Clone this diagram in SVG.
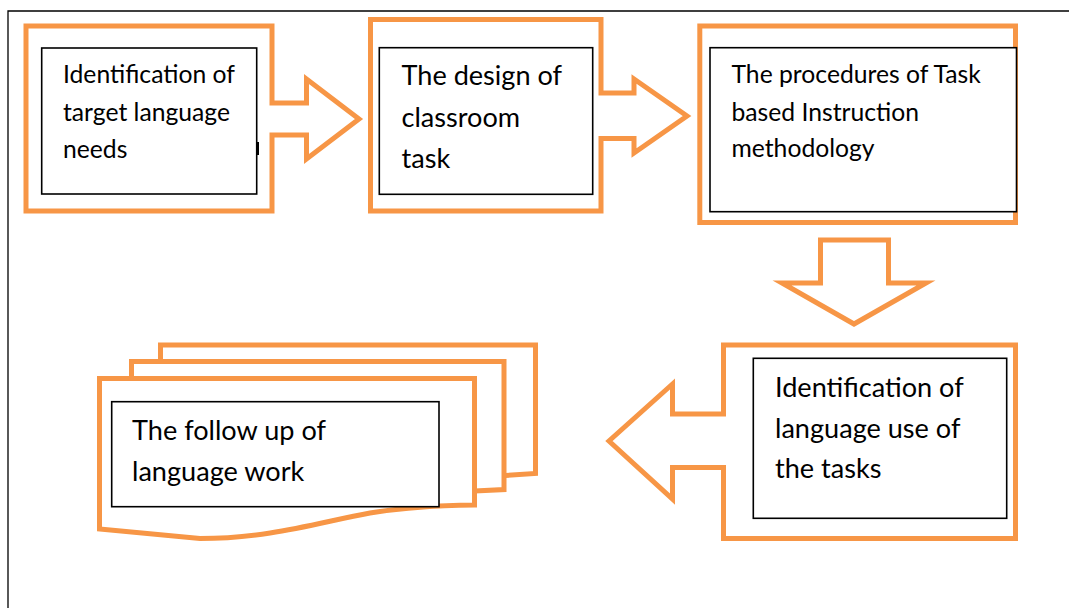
<svg xmlns="http://www.w3.org/2000/svg" width="1069" height="608" viewBox="0 0 1069 608">
<style>
.o{fill:#fff;stroke:#F79646;stroke-width:5;stroke-linejoin:miter}
.b{fill:#fff;stroke:#000;stroke-width:1.6}
.t{font-family:Lato,"Liberation Sans",sans-serif;fill:#000}
.s{font-size:24.7px}
.l{font-size:27.1px}
</style>
<rect width="1069" height="608" fill="#fff"/>
<path d="M1069,11 H8 V608" fill="none" stroke="#000" stroke-width="1.3"/>
<g id="connectors">
<path class="o" d="M820.5,240 H888.5 V283 H926 L854,324 L782,283 H820.5 Z"/>
</g>
<g id="node1">
<path class="o" d="M26,26 H272 V103 H306.5 V79 L359,119 L306.5,159 V135 H272 V211 H26 Z"/>
<rect class="b" x="41.7" y="48" width="215" height="146"/>
<rect x="256.5" y="142" width="2.5" height="13" fill="#000"/>
<text class="t s" x="63" y="83">Identification of</text>
<text class="t s" x="63" y="121">target language</text>
<text class="t s" x="63" y="158">needs</text>
</g>
<g id="node2">
<path class="o" d="M370.5,19.5 H601 V93 H634 V79 L687,116 L634,153 V138.5 H601 V211 H370.5 Z"/>
<rect class="b" x="379.3" y="47.7" width="213.4" height="146.6"/>
<text class="t l" x="401.5" y="85">The design of</text>
<text class="t l" x="401.5" y="127">classroom</text>
<text class="t l" x="401.5" y="168">task</text>
</g>
<g id="node3">
<rect class="o" x="699.8" y="26" width="315.7" height="196.5"/>
<rect class="b" x="710" y="47.7" width="306.5" height="164"/>
<text class="t s" x="731.5" y="82.7">The procedures of Task</text>
<text class="t s" x="731.5" y="120.7">based Instruction</text>
<text class="t s" x="731.5" y="157">methodology</text>
</g>
<g id="node4">
<path class="o" d="M723.5,345 H1015.5 V538.5 H723.5 V467.5 H672.5 V499 L609,441 L672.5,384 V414 H723.5 Z"/>
<rect class="b" x="753.3" y="358.3" width="253.4" height="160"/>
<text class="t l" x="775" y="396.7">Identification of</text>
<text class="t l" x="775" y="437.5">language use of</text>
<text class="t l" x="775" y="478.3">the tasks</text>
</g>
<g id="node5">
<path class="o" d="M160.5,345 H535.5 V473.5 L505,475.5 H160.5 Z"/>
<path class="o" d="M131.5,361.5 H504 V489.5 L474.5,491 H131.5 Z"/>
<path class="o" d="M99.5,378.5 H474.5 V505 C430,505.5 400,508 370,513 C320,522 270,538.5 200,538.5 L99.5,529 Z"/>
<rect class="b" x="111.7" y="401.7" width="327.3" height="105"/>
<text class="t l" x="132" y="440">The follow up of</text>
<text class="t l" x="132" y="480.5">language work</text>
</g>
</svg>
